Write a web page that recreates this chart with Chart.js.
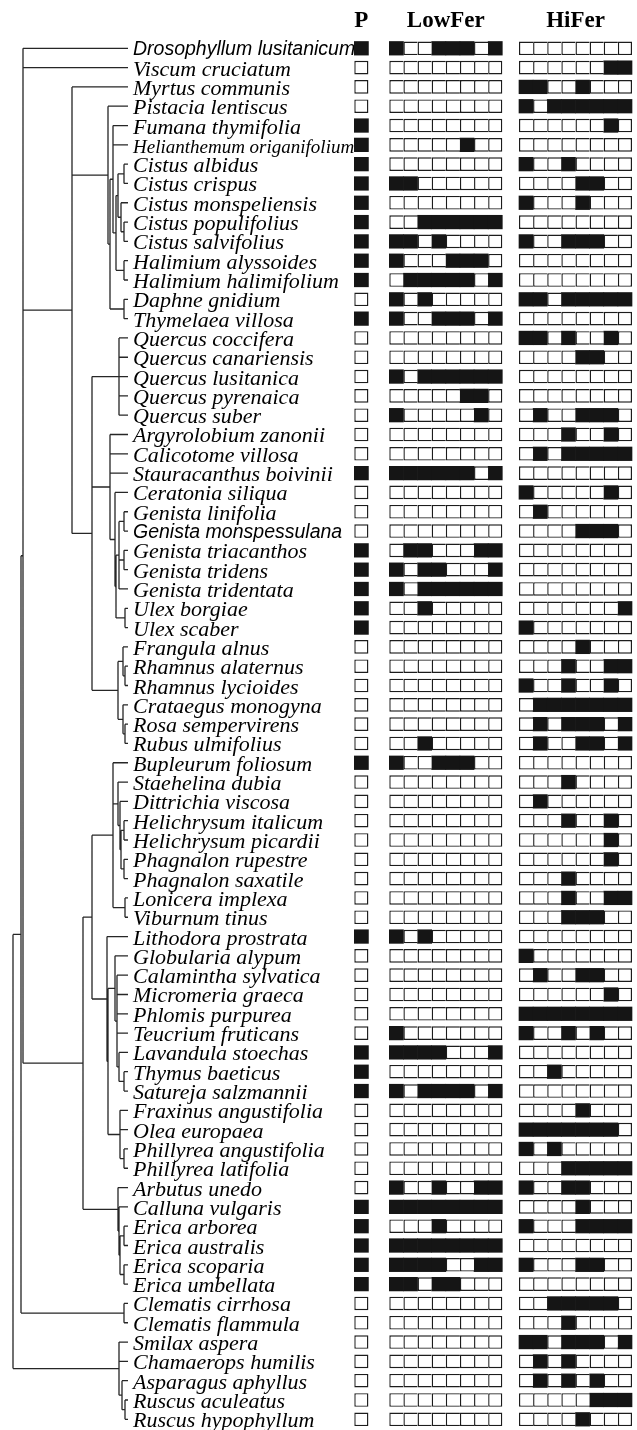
<!DOCTYPE html>
<html><head><meta charset="utf-8">
<script src="https://cdn.jsdelivr.net/npm/chart.js@4.4.1/dist/chart.umd.min.js"></script>
<style>html,body{margin:0;padding:0;background:#fff}canvas{display:block}</style>
</head><body>
<canvas id="c" width="637" height="1430"></canvas>
<script>
// ---------------- DATA ----------------
const species = [
 'Drosophyllum lusitanicum','Viscum cruciatum','Myrtus communis','Pistacia lentiscus','Fumana thymifolia',
 'Helianthemum origanifolium','Cistus albidus','Cistus crispus','Cistus monspeliensis','Cistus populifolius',
 'Cistus salvifolius','Halimium alyssoides','Halimium halimifolium','Daphne gnidium','Thymelaea villosa',
 'Quercus coccifera','Quercus canariensis','Quercus lusitanica','Quercus pyrenaica','Quercus suber',
 'Argyrolobium zanonii','Calicotome villosa','Stauracanthus boivinii','Ceratonia siliqua','Genista linifolia',
 'Genista monspessulana','Genista triacanthos','Genista tridens','Genista tridentata','Ulex borgiae',
 'Ulex scaber','Frangula alnus','Rhamnus alaternus','Rhamnus lycioides','Crataegus monogyna',
 'Rosa sempervirens','Rubus ulmifolius','Bupleurum foliosum','Staehelina dubia','Dittrichia viscosa',
 'Helichrysum italicum','Helichrysum picardii','Phagnalon rupestre','Phagnalon saxatile','Lonicera implexa',
 'Viburnum tinus','Lithodora prostrata','Globularia alypum','Calamintha sylvatica','Micromeria graeca',
 'Phlomis purpurea','Teucrium fruticans','Lavandula stoechas','Thymus baeticus','Satureja salzmannii',
 'Fraxinus angustifolia','Olea europaea','Phillyrea angustifolia','Phillyrea latifolia','Arbutus unedo',
 'Calluna vulgaris','Erica arborea','Erica australis','Erica scoparia','Erica umbellata',
 'Clematis cirrhosa','Clematis flammula','Smilax aspera','Chamaerops humilis','Asparagus aphyllus',
 'Ruscus aculeatus','Ruscus hypophyllum'
];
const sansNames = ['Drosophyllum lusitanicum','Genista monspessulana'];
const smallNames = ['Helianthemum origanifolium'];

const columnLabels = ['P','LowFer','HiFer'];

const pValues = [
 1,0,0,0,1,1,1,1,1,1, 1,1,1,0,1,0,0,0,0,0, 0,0,1,0,0,0,1,1,1,1,
 1,0,0,0,0,0,0,1,0,0, 0,0,0,0,0,0,1,0,0,0, 0,0,1,1,1,0,0,0,0,0,
 1,1,1,1,1,0,0,0,0,0, 0,0
];
const lowFer = [
 '10011101','00000000','00000000','00000000','00000000','00000100','00000000','11000000','00000000','00111111',
 '11010000','10001110','01111101','10100000','10011101','00000000','00000000','10111111','00000110','10000010',
 '00000000','00000000','11111101','00000000','00000000','00000000','01100011','10110001','10111111','00100000',
 '00000000','00000000','00000000','00000000','00000000','00000000','00100000','10011100','00000000','00000000',
 '00000000','00000000','00000000','00000000','00000000','00000000','10100000','00000000','00000000','00000000',
 '00000000','10000000','11110001','00000000','10111101','00000000','00000000','00000000','00000000','10010011',
 '11111111','00010000','11111111','11110011','11011000','00000000','00000000','00000000','00000000','00000000',
 '00000000','00000000'
];
const hiFer = [
 '00000000','00000011','11001000','10111111','00000010','00000000','10010000','00001100','10001000','00000000',
 '10011100','00000000','00000000','11011111','00000000','11010010','00001100','00000000','00000000','01001110',
 '00010010','01011111','00000000','10000010','01000000','00001110','00000000','00000000','00000000','00000001',
 '10000000','00001000','00010011','10010010','01111111','01011101','01001101','00000000','00010000','01000000',
 '00010010','00000010','00000010','00010000','00010011','00011100','00000000','10000000','01001100','00000010',
 '11111111','10010100','00000000','00100000','00000000','00001000','11111110','10100000','00011111','10011000',
 '00001000','10001111','00000000','10001100','00000000','00111110','00010000','11011101','01010000','01010100',
 '00000111','00001000'
];

// Tree: [nodeDepth, child, child, ...]; leaves are row numbers. Depth from root, tips at TIP_DEPTH.
const TIP_DEPTH = 115;
const tree =
[0,
  [8,
    [10, 1, 2,
      [59, 3,
        [95, 4,
          [97,
            [100, 5, 6, [103, [105, [111, 7, 8], [108, 9, [111, 10, 11]]], [111, 12, 13]]],
            [111, 14, 15]]],
        [79,
          [106, 16, 17, 18, 19, 20],
          [97, 21, 22, 23, [102, 24, [103, [106, [111, 25, 26], [111, 27, 28], 29], [112, 30, 31]]]],
          [105, [110, 32, [112, 33, 34]], [110, 35, [112, 36, 37]]]]],
      [70,
        [79,
          [100, 38, [105, 39, [107, 40, [108, [111, 41, 42], [111, 43, 44]]]], [112, 45, 46]],
          [94, 47, [95, [102, 48, [104, 49, 50, 51, 52, [106, 53, [111, 54, 55]]]], [107, 56, 57, [111, 58, 59]]]]],
        [105, 60, [106, 61, [107, [111, 62, 63], [111, 64, 65]]]]]],
    [111, 66, 67]],
  [106, 68, 69, [109, 70, [112, 71, 72]]]
];

// ---------------- BUILD ----------------
const treeSegments = [];
function layoutNode(node) {
  if (typeof node === 'number') return {x: TIP_DEPTH, y: node};
  const d = node[0];
  const kids = node.slice(1).map(layoutNode);
  const y0 = kids[0].y, y1 = kids[kids.length - 1].y;
  treeSegments.push({x: d, y: y0}, {x: d, y: y1}, {x: d, y: null});
  kids.forEach(k => treeSegments.push({x: d, y: k.y}, {x: k.x, y: k.y}, {x: d, y: null}));
  return {x: d, y: (y0 + y1) / 2};
}
layoutNode(tree);

// column block offsets on the matrix axis (1 unit = one cell)
const P_OFF = 0, LOW_OFF = 2.478, HI_OFF = 11.66;

function blockCells(strings, off, filled) {
  const out = [];
  strings.forEach((s, r) => {
    for (let c = 0; c < s.length; c++) {
      if ((s[c] === '1') === filled) out.push({y: r + 1, x: [off + c, off + c + 1], col: c, n: s.length});
    }
  });
  return out;
}
const pStrings = pValues.map(v => String(v));

const BLACK = '#151515';
const LINE = '#1c1c1c';
const CELL_H = 13.6;

function filledSet(data) {
  return {type: 'bar', indexAxis: 'y', xAxisID: 'xm', yAxisID: 'y', data,
    backgroundColor: BLACK, borderColor: BLACK, borderWidth: 0, borderSkipped: false,
    barThickness: CELL_H, grouped: false};
}
function emptySet(data, full) {
  return {type: 'bar', indexAxis: 'y', xAxisID: 'xm', yAxisID: 'y', data,
    backgroundColor: '#ffffff', borderColor: LINE, borderSkipped: false, inflateAmount: 0,
    borderWidth: (ctx) => {
      const raw = ctx.raw || {};
      const w = 1.4;
      if (full) return w;
      return {top: w, bottom: w, left: w, right: raw.col === raw.n - 1 ? w : 0};
    },
    barThickness: CELL_H, grouped: false};
}

const textPlugin = {
  id: 'texts',
  beforeDatasetsDraw(chart) {
    const {ctx} = chart; const xt = chart.scales.xt, y = chart.scales.y;
    ctx.save();
    ctx.fillStyle = '#000';
    ctx.textAlign = 'left'; ctx.textBaseline = 'alphabetic';
    const x0 = xt.getPixelForValue(TIP_DEPTH) + 5;
    species.forEach((name, i) => {
      const sans = sansNames.includes(name);
      const small = smallNames.includes(name);
      ctx.font = sans ? 'italic 19.5px "Liberation Sans", Arial, sans-serif'
                      : 'italic ' + (small ? 19 : 22) + 'px "Liberation Serif", "Times New Roman", serif';
      ctx.fillText(name, x0, y.getPixelForValue(i + 1) + (sans ? 7 : 8));
    });
    ctx.restore();
  },
  afterDatasetsDraw(chart) {
    const {ctx} = chart; const xm = chart.scales.xm, y = chart.scales.y;
    ctx.save();
    ctx.fillStyle = '#000';
    ctx.textAlign = 'center'; ctx.textBaseline = 'alphabetic';
    ctx.font = 'bold 23px "Liberation Serif", "Times New Roman", serif';
    const centers = [P_OFF + 0.5, LOW_OFF + 4, HI_OFF + 4];
    const by = y.getPixelForValue(-0.1);
    columnLabels.forEach((t, i) => ctx.fillText(t, xm.getPixelForValue(centers[i]), by));
    ctx.restore();
  }
};

const hidden = {display: false, offset: false, beginAtZero: false, grace: 0, grid: {display: false, offset: false}};

new Chart(document.getElementById('c'), {
  type: 'bar',
  data: {
    datasets: [
      {type: 'line', xAxisID: 'xt', yAxisID: 'y', data: treeSegments, borderColor: '#262626', borderWidth: 1.3,
       pointRadius: 0, pointHoverRadius: 0, spanGaps: false, tension: 0, fill: false},
      emptySet(blockCells(pStrings, P_OFF, false), true),
      filledSet(blockCells(pStrings, P_OFF, true)),
      emptySet(blockCells(lowFer, LOW_OFF, false), false),
      filledSet(blockCells(lowFer, LOW_OFF, true)),
      emptySet(blockCells(hiFer, HI_OFF, false), false),
      filledSet(blockCells(hiFer, HI_OFF, true))
    ]
  },
  options: {
    responsive: false, devicePixelRatio: 1, animation: false, events: [],
    layout: {padding: 0, autoPadding: false},
    plugins: {legend: {display: false}, tooltip: {enabled: false}, title: {display: false}},
    scales: {
      y: Object.assign({type: 'linear', axis: 'y', reverse: true, min: -1.501, max: 72.554}, hidden),
      xm: Object.assign({type: 'linear', axis: 'x', min: -25.083, max: 20.014}, hidden),
      xt: Object.assign({type: 'linear', axis: 'x', min: -13, max: 624}, hidden)
    }
  },
  plugins: [textPlugin]
});
</script>
</body></html>
